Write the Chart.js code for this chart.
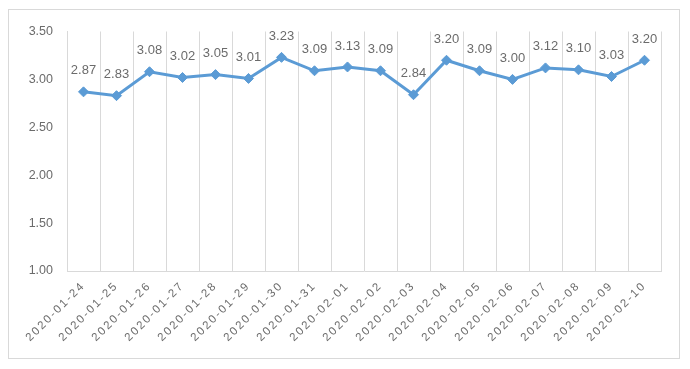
<!DOCTYPE html>
<html>
<head>
<meta charset="utf-8">
<script src="https://cdn.jsdelivr.net/npm/chart.js@4"></script>
<style>
  html, body { margin: 0; padding: 0; background: #fff; }
  #box {
    position: absolute; left: 8px; top: 9px;
    width: 670px; height: 348px;
    border: 1px solid #d9d9d9;
  }
</style>
</head>
<body>
<div id="box"><canvas id="chart-area" width="670" height="348"></canvas></div>
<script>
    // dates on the category axis
    var dates = ['2020-01-24', '2020-01-25', '2020-01-26', '2020-01-27', '2020-01-28', '2020-01-29',
        '2020-01-30', '2020-01-31', '2020-02-01', '2020-02-02', '2020-02-03', '2020-02-04',
        '2020-02-05', '2020-02-06', '2020-02-07', '2020-02-08', '2020-02-09', '2020-02-10'];
    // daily values
    var values = [2.87, 2.83, 3.08, 3.02, 3.05, 3.01, 3.23, 3.09, 3.13, 3.09, 2.84, 3.20,
        3.09, 3.00, 3.12, 3.10, 3.03, 3.20];
    var yMin = 1.0, yMax = 3.5, yStep = 0.5;

    var lineColor = '#5B9BD5';
    var textColor = '#6b6b6b';
    var gridColor = '#d9d9d9';
    var fontFamily = '"Liberation Sans", Arial, sans-serif';

    // x labels look spaced out like excel, set spacing only while x axis draws
    // (y ticks are pushed to z 1 so they draw after the reset)
    var spacingPlugin = {
        id: 'spacing',
        beforeDraw: function (chart) { chart.ctx.letterSpacing = '2px'; },
        beforeDatasetsDraw: function (chart) { chart.ctx.letterSpacing = '0px'; }
    };

    var valueLabels = {
        id: 'valueLabels',
        afterDatasetsDraw: function (chart) {
            var ctx = chart.ctx;
            var meta = chart.getDatasetMeta(0);
            ctx.save();
            ctx.font = '13px ' + fontFamily;
            ctx.fillStyle = textColor;
            ctx.textAlign = 'center';
            ctx.textBaseline = 'middle';
            meta.data.forEach(function (pt, i) {
                ctx.fillText(values[i].toFixed(2), pt.x, pt.y - 21);
            });
            ctx.restore();
        }
    };

    var ctx = document.getElementById('chart-area').getContext('2d');
    window.myLine = new Chart(ctx, {
        type: 'line',
        data: {
            labels: dates,
            datasets: [{
                data: values,
                borderColor: lineColor,
                backgroundColor: lineColor,
                borderWidth: 3,
                pointStyle: 'rectRot',
                pointRadius: 5,
                pointBorderWidth: 1,
                tension: 0,
                fill: false
            }]
        },
        options: {
            responsive: false,
            animation: false,
            layout: { padding: { top: 18, right: 18, left: 0, bottom: 0 } },
            plugins: {
                legend: { display: false },
                tooltip: { enabled: false }
            },
            scales: {
                x: {
                    offset: true,
                    grid: { offset: true, color: gridColor, drawTicks: false, lineWidth: 1 },
                    border: { color: gridColor },
                    ticks: {
                        color: textColor,
                        font: { family: fontFamily, size: 11.5 },
                        minRotation: 45,
                        maxRotation: 45,
                        padding: 8,
                        autoSkip: false
                    },
                    afterFit: function (scale) { scale.height = 87; }
                },
                y: {
                    min: yMin,
                    max: yMax,
                    grid: { display: false, drawTicks: false },
                    border: { color: gridColor },
                    ticks: {
                        z: 1,
                        stepSize: yStep,
                        color: textColor,
                        padding: 14,
                        font: { family: fontFamily, size: 12.5 },
                        callback: function (v) { return v.toFixed(2); }
                    },
                    afterFit: function (scale) { scale.width = 58; }
                }
            }
        },
        plugins: [spacingPlugin, valueLabels]
    });
</script>
</body>
</html>
